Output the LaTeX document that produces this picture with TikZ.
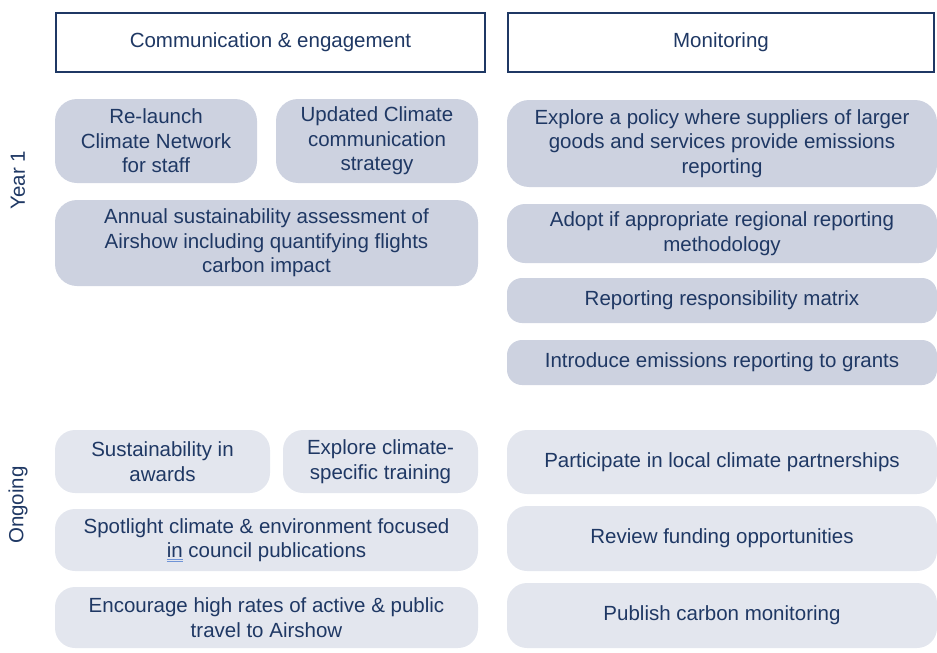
\documentclass[tikz,border=0pt]{standalone}
\usepackage{fontspec}
\setmainfont{Liberation Sans}
\usepackage{tikz}
\usetikzlibrary{positioning}
\definecolor{ink}{HTML}{1F3864}
\definecolor{yearfill}{HTML}{CDD2E0}
\definecolor{ongofill}{HTML}{E3E6EE}
\definecolor{markblue}{HTML}{6F93D6}
\tikzstyle{head} = [draw=ink, line width=2pt, outer sep=0pt, fill=white, text=ink, minimum height=59pt, anchor=north west]
\tikzstyle{yearbox} = [fill=yearfill, rounded corners=22pt, text=ink, align=center, inner sep=0pt, outer sep=0pt]
\tikzstyle{ongobox} = [fill=ongofill, rounded corners=20pt, text=ink, align=center, inner sep=0pt, outer sep=0pt]
\tikzstyle{period} = [rotate=90, text=ink]
\newcommand{\dblmark}[1]{{\color{markblue}\underline{\underline{\color{ink}#1}}}}

\begin{document}
\begin{tikzpicture}[x=1pt, y=1pt, font=\fontsize{20.5}{24.5}\selectfont]
            \useasboundingbox (0,0) rectangle (937,-653);
            % column headers
            \node[head, minimum width=429pt] (comms) at (56,-13) {Communication \& engagement};
            \node[head, minimum width=426pt] (monit) at (508,-13) {Monitoring};

            % year 1
            \node[period] (year) at (18,-180) {Year 1};
            \node[yearbox, minimum width=202pt, minimum height=84pt, below right=27pt and -1pt of comms.south west] (relaunch) {Re-launch\\Climate Network\\for staff};
            \node[yearbox, minimum width=202pt, minimum height=84pt, right=19pt of relaunch] (strategy) {Updated Climate\\communication\\strategy};
            \node[yearbox, minimum width=423pt, minimum height=86pt, below right=17pt and 0pt of relaunch.south west] (airshow) {Annual sustainability assessment of\\Airshow including quantifying flights\\carbon impact};

            \node[yearbox, minimum width=430pt, minimum height=87pt, below right=28pt and -1pt of monit.south west] (suppliers) {Explore a policy where suppliers of larger\\goods and services provide emissions\\reporting};
            \node[yearbox, rounded corners=18pt, minimum width=430pt, minimum height=59pt, below right=17pt and 0pt of suppliers.south west] (method) {Adopt if appropriate regional reporting\\methodology};
            \node[yearbox, rounded corners=15pt, minimum width=430pt, minimum height=45pt, below right=15pt and 0pt of method.south west] (matrix) {Reporting responsibility matrix};
            \node[yearbox, rounded corners=15pt, minimum width=430pt, minimum height=45pt, below right=17pt and 0pt of matrix.south west] (grants) {Introduce emissions reporting to grants};

            % ongoing
            \node[period] (ongoing) at (18,-505) {Ongoing};
            \node[ongobox, minimum width=215pt, minimum height=63pt, anchor=north west] (awards) at (55,-430) {Sustainability in\\awards};
            \node[ongobox, minimum width=195pt, minimum height=63pt, right=13pt of awards] (training) {Explore climate-\\specific training};
            \node[ongobox, minimum width=423pt, minimum height=62pt, below right=16pt and 0pt of awards.south west] (spotlight) {Spotlight climate \& environment focused\\\dblmark{in} council publications};
            \node[ongobox, minimum width=423pt, minimum height=61pt, below right=16pt and 0pt of spotlight.south west] (travel) {Encourage high rates of active \& public\\travel to Airshow};

            \node[ongobox, minimum width=430pt, minimum height=64pt, anchor=north west] (partners) at (507,-430) {Participate in local climate partnerships};
            \node[ongobox, minimum width=430pt, minimum height=65pt, below right=12pt and 0pt of partners.south west] (funding) {Review funding opportunities};
            \node[ongobox, minimum width=430pt, minimum height=65pt, below right=12pt and 0pt of funding.south west] (publish) {Publish carbon monitoring};
        \end{tikzpicture}
\end{document}
